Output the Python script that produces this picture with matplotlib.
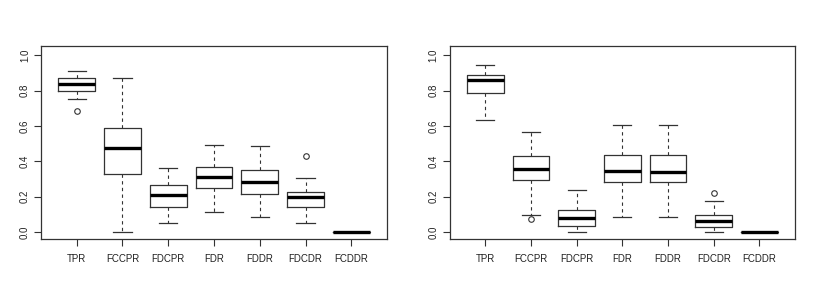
import matplotlib
matplotlib.use("Agg")
import matplotlib.pyplot as plt

plt.rcParams.update({
    "font.family": ["Liberation Sans", "DejaVu Sans"],
    "font.size": 7,
})

labels = ["TPR", "FCCPR", "FDCPR", "FDR", "FDDR", "FDCDR", "FCDDR"]

# panel 1: whisker low, Q1, median, Q3, whisker high, outliers
left_whislo = [0.751, 0.000, 0.049, 0.111, 0.087, 0.049, 0.0]
left_q1 = [0.798, 0.330, 0.140, 0.249, 0.217, 0.140, 0.0]
left_med = [0.836, 0.477, 0.209, 0.311, 0.281, 0.200, 0.0]
left_q3 = [0.872, 0.587, 0.264, 0.370, 0.353, 0.228, 0.0]
left_whishi = [0.913, 0.870, 0.364, 0.491, 0.487, 0.308, 0.0]
left_fliers = [[0.687], [], [], [], [], [0.432], []]

# panel 2
right_whislo = [0.632, 0.098, 0.000, 0.085, 0.085, 0.000, 0.0]
right_q1 = [0.785, 0.294, 0.034, 0.285, 0.285, 0.027, 0.0]
right_med = [0.860, 0.357, 0.079, 0.345, 0.340, 0.064, 0.0]
right_q3 = [0.889, 0.430, 0.125, 0.434, 0.434, 0.098, 0.0]
right_whishi = [0.947, 0.564, 0.238, 0.606, 0.606, 0.175, 0.0]
right_fliers = [[], [0.073], [], [], [], [0.219], []]

edge = "#333333"


def make_stats(lo, q1, med, q3, hi, fl):
    return [dict(label=l, whislo=a, q1=b, med=c, q3=d, whishi=e, fliers=f)
            for l, a, b, c, d, e, f in zip(labels, lo, q1, med, q3, hi, fl)]


fig = plt.figure(figsize=(8.17, 3.0), dpi=100)
W, H = 817, 300
axes = [fig.add_axes([41 / W, 1 - 239 / H, 346 / W, 193.3 / H]),
        fig.add_axes([449.7 / W, 1 - 239 / H, 345.3 / W, 193.3 / H])]

panels = [
    make_stats(left_whislo, left_q1, left_med, left_q3, left_whishi, left_fliers),
    make_stats(right_whislo, right_q1, right_med, right_q3, right_whishi, right_fliers),
]

for ax, stats in zip(axes, panels):
    ax.bxp(stats, positions=range(1, 8), widths=0.8, capwidths=0.4,
           showfliers=True,
           boxprops=dict(color=edge, linewidth=0.9),
           whiskerprops=dict(color=edge, linewidth=0.8, linestyle=(0, (3, 3))),
           capprops=dict(color=edge, linewidth=0.9),
           medianprops=dict(color="black", linewidth=2.4, solid_capstyle="butt"),
           flierprops=dict(marker="o", markersize=4, markerfacecolor="none",
                           markeredgecolor=edge, markeredgewidth=0.8))
    ax.set_xlim(0.22, 7.78)
    ax.set_ylim(-0.04, 1.054)
    ax.set_yticks([0.0, 0.2, 0.4, 0.6, 0.8, 1.0])
    ax.set_yticklabels(["0.0", "0.2", "0.4", "0.6", "0.8", "1.0"],
                       rotation=90, va="center")
    ax.set_xticks(range(1, 8))
    ax.set_xticklabels(labels)
    ax.tick_params(axis="y", length=5, width=0.8, color=edge, pad=3, labelcolor="#222222")
    ax.tick_params(axis="x", length=5, width=0.8, color=edge, pad=6, labelcolor="#222222")
    for sp in ax.spines.values():
        sp.set_color(edge)
        sp.set_linewidth(0.9)

fig.savefig("out.png", dpi=100, facecolor="white")
